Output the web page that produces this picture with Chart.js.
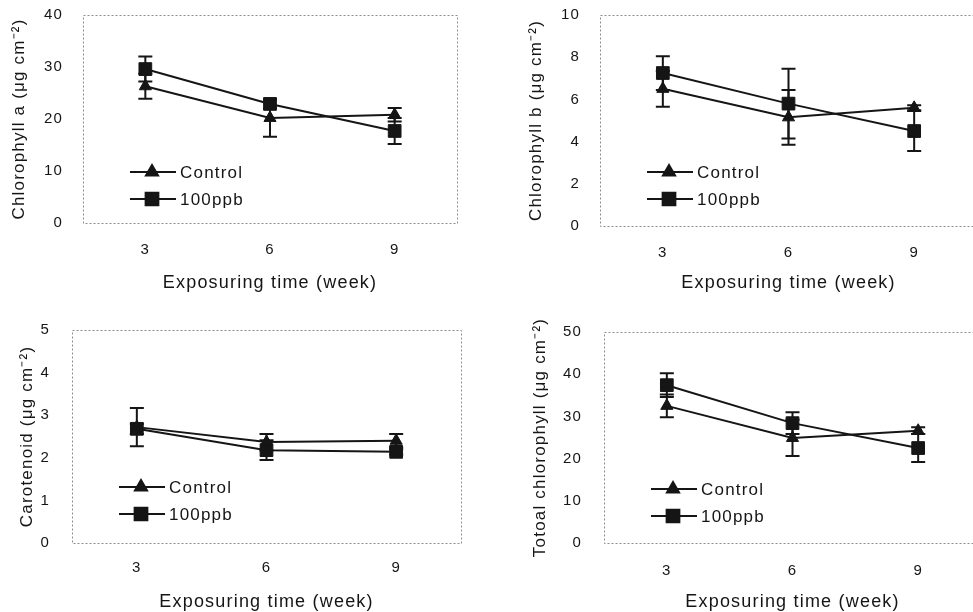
<!DOCTYPE html>
<html lang="en">
<head>
    <meta charset="UTF-8">
    <title>Chlorophyll and carotenoid content</title>
    <style>
        html, body { margin: 0; padding: 0; background: #fff; overflow: hidden; }
        body { width: 973px; height: 612px; position: relative; }
        canvas { position: absolute; left: 0; top: -60px; }
    </style>
</head>
<body>
    <canvas id="chlA" width="1000" height="700"></canvas>
    <canvas id="chlB" width="1000" height="700"></canvas>
    <canvas id="carot" width="1000" height="700"></canvas>
    <canvas id="total" width="1000" height="700"></canvas>

    <script src="https://cdn.jsdelivr.net/npm/chart.js"></script>
    <script>
        // exposure weeks and series names
        var weeks = [3, 6, 9];
        var seriesNames = ["Control", "100ppb"];

        // chlorophyll a
        var chlAControl = [26.3, 20.2, 20.8];
        var chlAControlSd = [2.4, 3.6, 1.3];
        var chlA100 = [29.6, 22.9, 17.7];
        var chlA100Sd = [2.4, 0.9, 2.5];

        // chlorophyll b
        var chlBControl = [6.5, 5.15, 5.6];
        var chlBControlSd = [0.85, 1.3, 0.12];
        var chlB100 = [7.25, 5.8, 4.5];
        var chlB100Sd = [0.8, 1.65, 0.95];

        // carotenoid
        var carControl = [2.72, 2.37, 2.4];
        var carControlSd = [0.45, 0.19, 0.16];
        var car100 = [2.68, 2.18, 2.14];
        var car100Sd = [0.12, 0.23, 0.06];

        // total chlorophyll
        var totControl = [32.5, 24.9, 26.6];
        var totControlSd = [2.7, 4.3, 0.8];
        var tot100 = [37.4, 28.4, 22.5];
        var tot100Sd = [2.8, 2.6, 3.3];

        var xTitle = "Exposuring time (week)";
        var ink = "#151515";

        // canvases sit 60px above the page so the top axis labels have room
        var SHIFT = 60;
        var CANVAS_W = 1000;
        var CANVAS_H = 700;

        Chart.defaults.font.family = "'Liberation Sans', Arial, sans-serif";
        Chart.defaults.color = ink;

        // plot box in page pixels + where the titles sit
        var panels = [
            { id: "chlA", yTitle: "Chlorophyll a (μg cm⁻²)", max: 40, step: 10,
              control: chlAControl, controlSd: chlAControlSd, treat: chlA100, treatSd: chlA100Sd,
              box: { left: 83, top: 15, right: 457, bottom: 223 },
              yTitleX: 19, yTickGap: 20, xTickGap: 18, xTitleY: 283 },
            { id: "chlB", yTitle: "Chlorophyll b (μg cm⁻²)", max: 10, step: 2,
              control: chlBControl, controlSd: chlBControlSd, treat: chlB100, treatSd: chlB100Sd,
              box: { left: 600, top: 15, right: 977, bottom: 226 },
              yTitleX: 536, yTickGap: 20, xTickGap: 18, xTitleY: 283 },
            { id: "carot", yTitle: "Carotenoid (μg cm⁻²)", max: 5, step: 1,
              control: carControl, controlSd: carControlSd, treat: car100, treatSd: car100Sd,
              box: { left: 72, top: 330, right: 461, bottom: 543 },
              yTitleX: 27, yTickGap: 22, xTickGap: 16, xTitleY: 602 },
            { id: "total", yTitle: "Totoal chlorophyll (μg cm⁻²)", max: 50, step: 10,
              control: totControl, controlSd: totControlSd, treat: tot100, treatSd: tot100Sd,
              box: { left: 604, top: 332, right: 981, bottom: 543 },
              yTitleX: 540, yTickGap: 22, xTickGap: 19, xTitleY: 602 }
        ];

        function toPoints(values) {
            var pts = [];
            for (var i = 0; i < weeks.length; i++) {
                pts.push({ x: weeks[i], y: values[i] });
            }
            return pts;
        }

        // dotted frame around the plot area
        var framePlugin = {
            id: "frame",
            beforeDraw: function (chart) {
                chart.ctx.letterSpacing = "1.2px";
            },
            beforeDatasetsDraw: function (chart) {
                var a = chart.chartArea;
                var ctx = chart.ctx;
                ctx.save();
                ctx.setLineDash([2, 2]);
                ctx.strokeStyle = "#8c8c8c";
                ctx.lineWidth = 1;
                ctx.strokeRect(Math.round(a.left) + 0.5, Math.round(a.top) + 0.5,
                    Math.round(a.right - a.left), Math.round(a.bottom - a.top));
                ctx.restore();
            }
        };

        // +/- sd whiskers with caps
        var errorBarPlugin = {
            id: "errorBars",
            beforeDatasetsDraw: function (chart) {
                var ctx = chart.ctx;
                var yScale = chart.scales.y;
                ctx.save();
                ctx.strokeStyle = ink;
                ctx.lineWidth = 2;
                chart.data.datasets.forEach(function (ds, di) {
                    var meta = chart.getDatasetMeta(di);
                    meta.data.forEach(function (pt, i) {
                        var v = ds.data[i].y;
                        var sd = ds.sd[i];
                        var top = yScale.getPixelForValue(v + sd);
                        var bot = yScale.getPixelForValue(v - sd);
                        ctx.beginPath();
                        ctx.moveTo(pt.x, top);
                        ctx.lineTo(pt.x, bot);
                        ctx.moveTo(pt.x - 7, top);
                        ctx.lineTo(pt.x + 7, top);
                        ctx.moveTo(pt.x - 7, bot);
                        ctx.lineTo(pt.x + 7, bot);
                        ctx.stroke();
                    });
                });
                ctx.restore();
            }
        };

        // legend inside the plot: short line with marker, then the name
        var keyPlugin = {
            id: "key",
            afterDraw: function (chart) {
                var ctx = chart.ctx;
                var a = chart.chartArea;
                var x0 = a.left + 47;
                var y0 = a.top + 157;
                ctx.save();
                chart.data.datasets.forEach(function (ds, i) {
                    var y = y0 + i * 27;
                    ctx.strokeStyle = ink;
                    ctx.fillStyle = ink;
                    ctx.lineWidth = 2;
                    ctx.beginPath();
                    ctx.moveTo(x0, y);
                    ctx.lineTo(x0 + 46, y);
                    ctx.stroke();
                    Chart.helpers.drawPoint(ctx, {
                        pointStyle: ds.pointStyle,
                        radius: ds.pointRadius,
                        rotation: 0,
                        borderWidth: 1
                    }, x0 + 22, y);
                    ctx.font = "17px 'Liberation Sans', Arial, sans-serif";
                    ctx.textBaseline = "middle";
                    ctx.textAlign = "left";
                    ctx.fillText(ds.label, x0 + 50, y + 1);
                });
                ctx.restore();
            }
        };

        function drawPanel(p) {
            var yTitleSize = 17;
            var xTitleSize = 18;
            var yTitleHalf = yTitleSize * 1.2 / 2;
            var xTitleHalf = xTitleSize * 1.2 / 2;
            var padLeft = p.yTitleX - yTitleHalf;
            var boxTop = p.box.top + SHIFT;
            var boxBottom = p.box.bottom + SHIFT;
            var titleY = p.xTitleY + SHIFT;

            var data = {
                datasets: [{
                    label: seriesNames[0],
                    data: toPoints(p.control),
                    sd: p.controlSd,
                    borderColor: ink,
                    backgroundColor: ink,
                    borderWidth: 2,
                    pointStyle: "triangle",
                    pointRadius: 7,
                    pointBorderWidth: 1,
                    tension: 0
                }, {
                    label: seriesNames[1],
                    data: toPoints(p.treat),
                    sd: p.treatSd,
                    borderColor: ink,
                    backgroundColor: ink,
                    borderWidth: 2,
                    pointStyle: "rect",
                    pointRadius: 9,
                    pointBorderWidth: 1,
                    tension: 0
                }]
            };

            var config = {
                type: "line",
                data: data,
                options: {
                    responsive: false,
                    animation: false,
                    layout: {
                        padding: {
                            left: padLeft,
                            top: boxTop,
                            right: CANVAS_W - p.box.right,
                            bottom: CANVAS_H - (titleY + xTitleHalf)
                        }
                    },
                    plugins: {
                        legend: { display: false },
                        tooltip: { enabled: false }
                    },
                    scales: {
                        x: {
                            type: "linear",
                            min: 1.5,
                            max: 10.5,
                            afterBuildTicks: function (scale) {
                                scale.ticks = weeks.map(function (w) { return { value: w }; });
                            },
                            afterFit: function (scale) {
                                scale.height = titleY + xTitleHalf - boxBottom;
                            },
                            grid: { display: false, drawTicks: false },
                            border: { display: false },
                            ticks: { padding: p.xTickGap, font: { size: 15 }, color: ink },
                            title: {
                                display: true,
                                text: xTitle,
                                font: { size: xTitleSize },
                                color: ink,
                                padding: { top: 0, bottom: 0 }
                            }
                        },
                        y: {
                            min: 0,
                            max: p.max,
                            afterFit: function (scale) {
                                scale.width = p.box.left - padLeft;
                            },
                            grid: { display: false, drawTicks: false },
                            border: { display: false },
                            ticks: { stepSize: p.step, padding: p.yTickGap, font: { size: 15 }, color: ink },
                            title: {
                                display: true,
                                text: p.yTitle,
                                font: { size: yTitleSize },
                                color: ink,
                                padding: { top: 0, bottom: 0 }
                            }
                        }
                    }
                },
                plugins: [framePlugin, errorBarPlugin, keyPlugin]
            };

            new Chart(document.getElementById(p.id), config);
        }

        panels.forEach(drawPanel);
    </script>
</body>
</html>
